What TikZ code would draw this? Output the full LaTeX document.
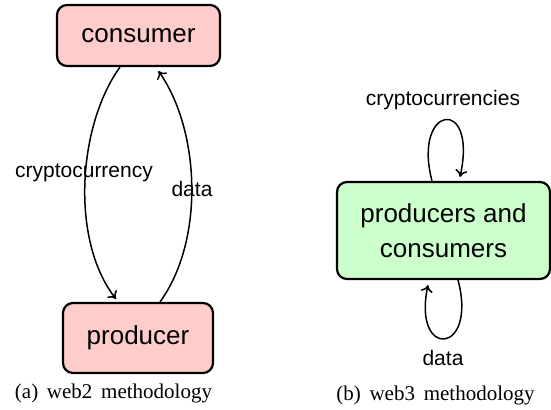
\documentclass[tikz,border=0pt]{standalone}
\usepackage{fontspec}
\setmainfont{Liberation Serif}
\newfontfamily\diagfont{Liberation Sans}
\usetikzlibrary{arrows.meta}
\begin{document}
\begin{tikzpicture}[x=0.5pt,y=-0.5pt,
  box/.style={draw,line width=1.1pt,rounded corners=5pt,inner sep=0pt,
    font=\diagfont\fontsize{13}{17.5}\selectfont,align=center},
  pinkbox/.style={box,fill=red!20},
  greenbox/.style={box,fill=green!20},
  conn/.style={-{To[length=3.5pt,width=6pt]},line width=0.75pt},
  lbl/.style={font=\diagfont\fontsize{10.5}{12}\selectfont,inner sep=0pt},
  subcap/.style={font=\fontsize{10.5}{12}\selectfont,inner sep=0pt}]
\useasboundingbox (0,0) rectangle (551,409);
\node[pinkbox,minimum width=81.5pt,minimum height=30.5pt] (c) at (138.5,35.5) {consumer};
\node[pinkbox,minimum width=75pt,minimum height=35pt] (p) at (138,338) {producer};
\node[greenbox,minimum width=106.5pt,minimum height=48.5pt] (pc) at (443.5,230.5) {producers and\\consumers};
\coordinate (a1) at ([xshift=-9.25pt]c.south);
\coordinate (a2) at ([xshift=-11pt,yshift=1.5pt]p.north);
\coordinate (b1) at ([xshift=11pt]p.north);
\coordinate (b2) at ([xshift=10pt,yshift=-2pt]c.south);
\draw[conn] (a1) .. controls (78,125) and (70,240) .. (a2);
\draw[conn] (b1) .. controls (205,240) and (200,130) .. (b2);
\coordinate (t1) at ([xshift=-5.75pt]pc.north);
\coordinate (t2) at ([xshift=8.25pt,yshift=2pt]pc.north);
\coordinate (u1) at ([xshift=7.25pt]pc.south);
\coordinate (u2) at ([xshift=-7.75pt,yshift=-2.5pt]pc.south);
\draw[conn] (t1) .. controls (412,105) and (478,95) .. (t2);
\draw[conn] (u1) .. controls (478,355) and (412,360) .. (u2);
\node[lbl] (l1) at (84,173) {cryptocurrency};
\node[lbl] (l2) at (192,189) {data};
\node[lbl] (l3) at (443,100) {cryptocurrencies};
\node[lbl] (l4) at (443,358) {data};
\node[subcap] (ca) at (113.5,393) {(a)\ \,web2\ \,methodology};
\node[subcap] (cb) at (435.5,395) {(b)\ \,web3\ \,methodology};
\end{tikzpicture}
\end{document}
